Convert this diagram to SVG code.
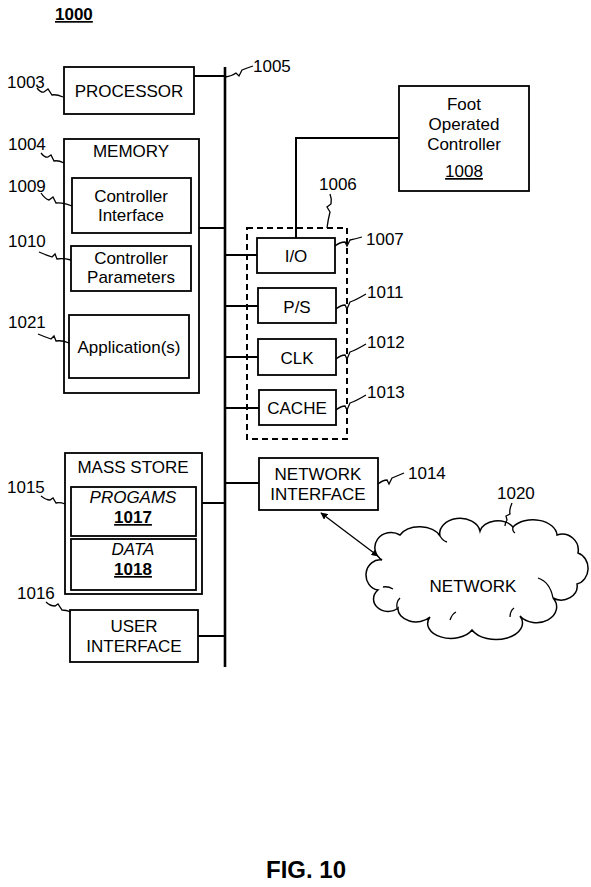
<svg xmlns="http://www.w3.org/2000/svg" width="591" height="887" viewBox="0 0 591 887">
<style>
text{font-family:"Liberation Sans",Arial,sans-serif;font-size:17px;fill:#000}
.c{text-anchor:middle}
.b{font-weight:bold}
.i{font-style:italic}
.u{text-decoration:underline}
.box{fill:#fff;stroke:#000;stroke-width:1.8}
.ln{fill:none;stroke:#000;stroke-width:2}
.sq{fill:none;stroke:#000;stroke-width:1.3}
</style>
<defs>
<marker id="ah" viewBox="0 0 10 10" refX="9" refY="5" markerWidth="7" markerHeight="7" orient="auto-start-reverse" markerUnits="userSpaceOnUse">
<path d="M0,0 L10,5 L0,10 Z" fill="#000"/>
</marker>
</defs>
<rect width="591" height="887" fill="#fff"/>
<text x="55" y="20" class="b u">1000</text>

<g id="connectors">
<line x1="225" y1="67" x2="225" y2="667" stroke="#000" stroke-width="2.6"/>
<line x1="194" y1="76" x2="225" y2="76" class="ln" stroke-width="2.6"/>
<line x1="199" y1="228" x2="225" y2="228" class="ln" stroke-width="1.4"/>
<line x1="225" y1="255" x2="257" y2="255" class="ln"/>
<line x1="225" y1="306" x2="258" y2="306" class="ln"/>
<line x1="225" y1="357" x2="258" y2="357" class="ln"/>
<line x1="225" y1="408" x2="259" y2="408" class="ln"/>
<line x1="202" y1="503" x2="225" y2="503" class="ln" stroke-width="1.5"/>
<line x1="225" y1="483" x2="259" y2="483" class="ln"/>
<line x1="198" y1="636" x2="225" y2="636" class="ln" stroke-width="1.5"/>
<polyline points="296,238 296,138 399,138" class="ln"/>
<line x1="321" y1="513" x2="378" y2="556" stroke="#000" stroke-width="1.3" marker-start="url(#ah)" marker-end="url(#ah)"/>
</g>

<g id="n1005">
<path class="sq" d="M225,77 Q232,76 236,73 L239,76 L242,70 Q247,68 253,66"/>
<text x="253" y="72">1005</text>
</g>

<g id="n1003">
<rect class="box" x="64" y="67" width="130" height="47"/>
<text x="129" y="97" class="c">PROCESSOR</text>
<text x="7" y="88">1003</text>
<path class="sq" d="M37,88 Q41,93 44,92 L48,89 L52,95 Q56,94 63,97"/>
</g>

<g id="n1004">
<rect class="box" x="64" y="139" width="135" height="254" stroke-width="1.4"/>
<text x="131" y="157" class="c">MEMORY</text>
<text x="8" y="150">1004</text>
<path class="sq" d="M41,153 Q45,158 48,157 L51,155 L54,161 Q58,160 64,163"/>
</g>

<g id="n1009">
<rect class="box" x="72" y="178" width="119" height="55"/>
<text x="131" y="202" class="c">Controller</text>
<text x="131" y="221" class="c">Interface</text>
<text x="8" y="192">1009</text>
<path class="sq" d="M41,193 Q45,199 49,200 L53,197 L56,203 Q62,202 72,206"/>
</g>

<g id="n1010">
<rect class="box" x="71" y="246" width="120" height="45"/>
<text x="131" y="264" class="c">Controller</text>
<text x="131" y="283" class="c">Parameters</text>
<text x="8" y="247">1010</text>
<path class="sq" d="M39,252 Q46,255 52,257 L55,254 L57,259 Q63,258 71,260"/>
</g>

<g id="n1021">
<rect class="box" x="69" y="315" width="120" height="63"/>
<text x="129" y="353" class="c">Application(s)</text>
<text x="8" y="328">1021</text>
<path class="sq" d="M38,334 Q45,337 51,339 L54,336 L56,341 Q62,340 69,343"/>
</g>

<g id="n1008">
<rect class="box" x="399" y="86" width="130" height="105"/>
<text x="464" y="110" class="c">Foot</text>
<text x="464" y="130" class="c">Operated</text>
<text x="464" y="150" class="c">Controller</text>
<text x="464" y="177" class="c u">1008</text>
</g>

<g id="n1006">
<rect x="247" y="228" width="100" height="211" fill="none" stroke="#000" stroke-width="2" stroke-dasharray="6,4"/>
<text x="319" y="190">1006</text>
<path class="sq" d="M330,194 Q332,199 331,204 L327,207 L330,212 Q328,220 327,228"/>
</g>

<g id="n1007">
<rect class="box" x="257" y="238" width="78" height="35"/>
<text x="296" y="262" class="c">I/O</text>
<text x="366" y="245">1007</text>
<path class="sq" d="M335,246 Q340,242 345,242 L347,246 L350,240 Q355,239 362,237"/>
</g>

<g id="n1011">
<rect class="box" x="258" y="288" width="78" height="35"/>
<text x="297" y="313" class="c">P/S</text>
<text x="367" y="298">1011</text>
<path class="sq" d="M336,309 Q341,305 345,305 L347,309 L350,302 Q356,300 366,294"/>
</g>

<g id="n1012">
<rect class="box" x="258" y="339" width="78" height="36"/>
<text x="297" y="364" class="c">CLK</text>
<text x="367" y="348">1012</text>
<path class="sq" d="M336,359 Q341,355 345,355 L347,359 L350,352 Q356,350 366,344"/>
</g>

<g id="n1013">
<rect class="box" x="259" y="390" width="77" height="35"/>
<text x="297" y="414" class="c">CACHE</text>
<text x="367" y="398">1013</text>
<path class="sq" d="M336,410 Q341,406 345,406 L347,410 L350,403 Q356,401 366,395"/>
</g>

<g id="n1015">
<rect class="box" x="65" y="453" width="137" height="141"/>
<text x="133" y="473" class="c">MASS STORE</text>
<text x="7" y="493">1015</text>
<path class="sq" d="M41,496 Q46,500 50,500 L53,498 L56,503 Q60,502 65,504"/>
</g>

<g id="n1017">
<rect class="box" x="71" y="487" width="125" height="49"/>
<text x="133" y="503" class="c i">PROGAMS</text>
<text x="133" y="523" class="c b u">1017</text>
</g>

<g id="n1018">
<rect class="box" x="71" y="539" width="125" height="51"/>
<text x="133" y="555" class="c i">DATA</text>
<text x="133" y="575" class="c b u">1018</text>
</g>

<g id="n1016">
<rect class="box" x="70" y="610" width="128" height="52"/>
<text x="134" y="632" class="c">USER</text>
<text x="134" y="652" class="c">INTERFACE</text>
<text x="17" y="599">1016</text>
<path class="sq" d="M46,602 Q50,606 55,606 L58,604 L62,610 Q66,610 71,612"/>
</g>

<g id="n1014">
<rect class="box" x="259" y="458" width="119" height="52"/>
<text x="318" y="480" class="c">NETWORK</text>
<text x="318" y="500" class="c">INTERFACE</text>
<text x="408" y="479">1014</text>
<path class="sq" d="M378,484 Q383,480 387,480 L389,484 L392,478 Q397,476 404,473"/>
</g>

<g id="n1020">
<path fill="#fff" stroke="#000" stroke-width="1.5" d="M378,590 A12,13 0 0 1 382,560 A15,14 0 0 1 400,535 A22,15 0 0 1 440,536 A20,15 0 0 1 480,531 A18,13 0 0 1 513,527 A24,16 0 0 1 557,535 A16,16 0 0 1 578,553 A14,16 0 0 1 577,584 A16,14 0 0 1 553,598 A18,14 0 0 1 520,616 A24,15 0 0 1 472,630 A22,14 0 0 1 430,617 A18,13 0 0 1 398,608 A14,12 0 0 1 378,590 Z"/>
<path class="sq" d="M383,587 Q388,586 393,589"/>
<path class="sq" d="M538,578 Q550,582 553,598"/>
<path class="sq" d="M397,608 Q396,602 400,598"/>
<path class="sq" d="M450,620 Q452,614 456,612"/>
<path class="sq" d="M510,617 Q510,611 514,608"/>
<path class="sq" d="M440,536 Q443,541 447,542"/>
<path class="sq" d="M513,527 Q512,531 515,533"/>
<text x="473" y="592" class="c">NETWORK</text>
<text x="497" y="499">1020</text>
<path class="sq" d="M512,503 Q509,510 510,514 L506,516 L507,520 Q505,523 505,526"/>
</g>

<text x="306" y="878" class="c b" style="font-size:24px">FIG. 10</text>
</svg>
